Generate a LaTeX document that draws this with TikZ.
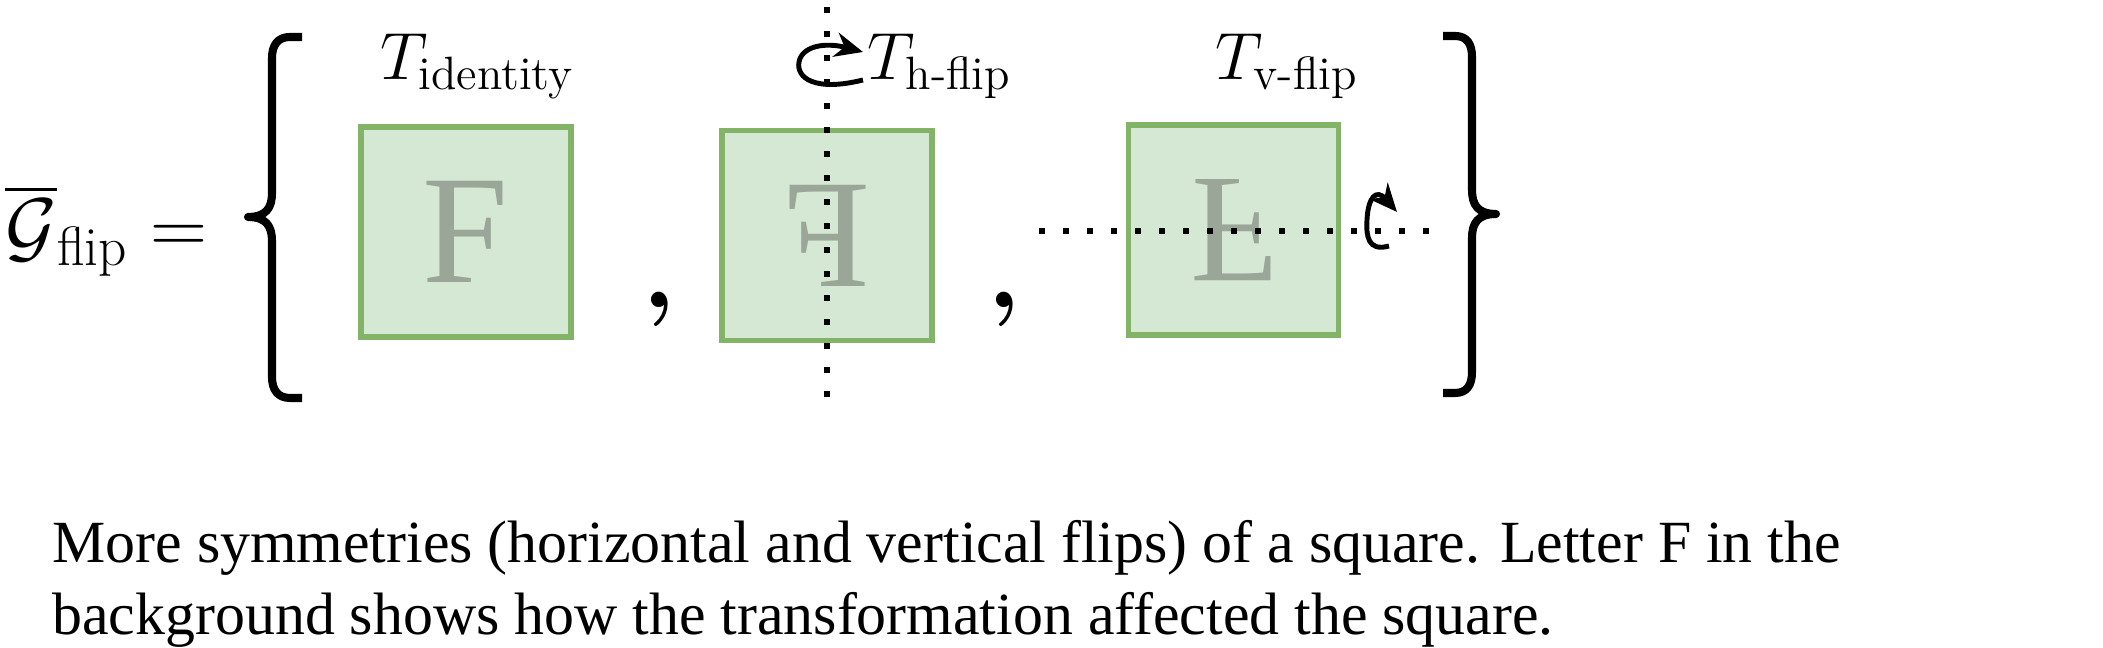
\RequirePackage{fix-cm}
\documentclass[tikz,border=0pt]{standalone}
\usepackage{amsmath}
\usepackage{fontspec}
\newfontfamily\capfont{Liberation Serif}
\usepackage{tikz}
\usetikzlibrary{arrows.meta}

\definecolor{boxgreen}{RGB}{130,179,102}
\definecolor{boxfill}{RGB}{213,232,212}
\definecolor{letgray}{RGB}{153,166,152}

\begin{document}
\begin{tikzpicture}[thick,
  flipbox/.style={draw=boxgreen,fill=boxfill,line width=1.5pt,minimum size=2.1cm,inner sep=0,text=letgray,font=\fontsize{44}{44}\capfont},
  labeltext/.style={inner sep=0,anchor=base west,font=\fontsize{19}{23}\selectfont},
  captext/.style={inner sep=0,anchor=base west,font=\fontsize{17.03}{20}\capfont},
  commamark/.style={inner sep=0,anchor=base,font=\fontsize{28}{28}\selectfont\boldmath},
  axisline/.style={line width=1.7pt,dash pattern=on 1.7pt off 5.13pt},
  spinarrow/.style={line width=1.4pt,-{Stealth[length=8pt,width=7pt]}},
  bracestroke/.style={line width=2.3pt,line join=round}]

\useasboundingbox (0,0) rectangle (21.03,6.48);

\node[inner sep=0,anchor=base west,font=\fontsize{22.5}{26}\selectfont] (gflip) at (0.04,3.94) {$\overline{\mathcal{G}}_{\text{flip}} =$};

\draw [bracestroke] (3.02,6.11) -- (2.90,6.11) .. controls (2.78,6.11) and (2.72,6.03) .. (2.72,5.90) -- (2.72,4.55) .. controls (2.72,4.40) and (2.66,4.31) .. (2.48,4.31) .. controls (2.66,4.31) and (2.72,4.22) .. (2.72,4.07) -- (2.72,2.71) .. controls (2.72,2.58) and (2.78,2.50) .. (2.90,2.50) -- (3.02,2.50);
\draw [bracestroke] (14.43,6.12) -- (14.55,6.12) .. controls (14.67,6.12) and (14.72,6.04) .. (14.72,5.91) -- (14.72,4.58) .. controls (14.72,4.43) and (14.78,4.34) .. (14.96,4.34) .. controls (14.78,4.34) and (14.72,4.25) .. (14.72,4.10) -- (14.72,2.76) .. controls (14.72,2.63) and (14.67,2.55) .. (14.55,2.55) -- (14.43,2.55);

\node[flipbox] (sqid) at (4.66,4.16) {F};
\node[flipbox,xscale=-1] (sqh) at (8.27,4.125) {F};
\node[flipbox,yscale=-1] (sqv) at (12.335,4.18) {F};

\node[labeltext] (tid) at (3.79,5.68) {$T_{\text{identity}}$};
\node[labeltext] (thflip) at (8.66,5.68) {$T_{\text{h-flip}}$};
\node[labeltext] (tvflip) at (12.14,5.68) {$T_{\text{v-flip}}$};

\node[commamark] (commaA) at (6.59,3.40) {$,$};
\node[commamark] (commaB) at (10.04,3.40) {$,$};

\coordinate (vtop) at (8.27,6.41);
\coordinate (vbot) at (8.27,2.48);
\coordinate (hleft) at (10.39,4.17);
\coordinate (hright) at (14.32,4.17);
\draw [axisline] (vtop) -- (vbot);
\draw [axisline] (hleft) -- (hright);

\draw [spinarrow] (8.63,5.68) .. controls (8.15,5.56) and (7.96,5.70) .. (7.99,5.86) .. controls (8.02,6.02) and (8.25,6.06) .. (8.63,5.96);
\draw [spinarrow] (13.89,4.02) .. controls (13.68,3.96) and (13.66,4.12) .. (13.67,4.28) .. controls (13.68,4.50) and (13.76,4.60) .. (13.97,4.36);

\node[captext] (capA) at (0.51,0.85) {More symmetries (horizontal and vertical flips) of a square. Letter F in the};
\node[captext] (capB) at (0.51,0.13) {background shows how the transformation affected the square.};

\end{tikzpicture}
\end{document}
